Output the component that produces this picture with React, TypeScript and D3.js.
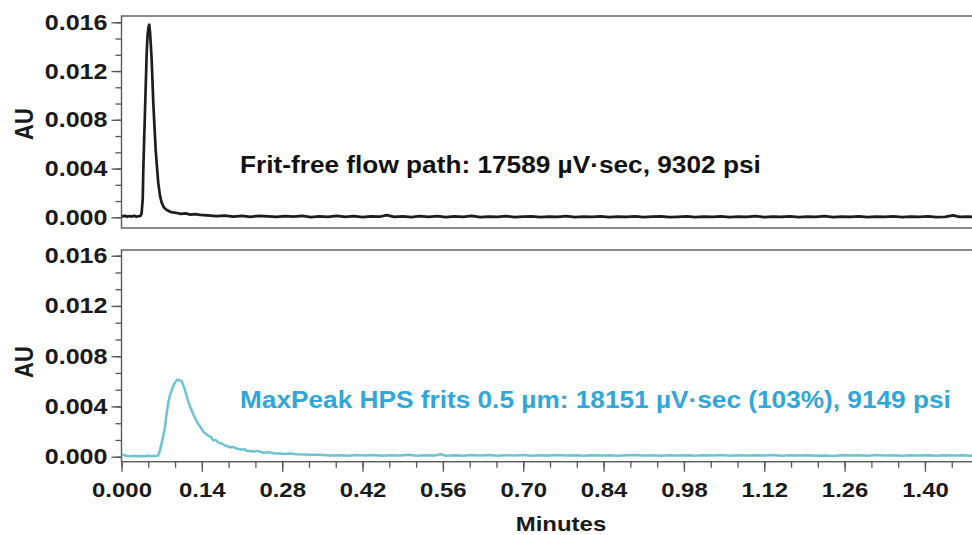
import { useEffect, useRef } from 'react';
import * as d3 from 'd3';

type Pt = [number, number];

const xTickValues = [0, 0.14, 0.28, 0.42, 0.56, 0.7, 0.84, 0.98, 1.12, 1.26, 1.4];
const xTickLabels = ['0.000', '0.14', '0.28', '0.42', '0.56', '0.70', '0.84', '0.98', '1.12', '1.26', '1.40'];
const yTickValues = [0, 0.004, 0.008, 0.012, 0.016];
const yTickLabels = ['0.000', '0.004', '0.008', '0.012', '0.016'];

const fritFreeLabel = 'Frit-free flow path: 17589 µV·sec, 9302 psi';
const maxPeakLabel = 'MaxPeak HPS frits 0.5 µm: 18151 µV·sec (103%), 9149 psi';

// [minutes, AU]
const fritFreeTrace: Pt[] = [
  [0.0, 0.00008], [0.006, 0.00012], [0.01, 0.00004], [0.014, 0.0001], [0.018, 0.00006],
  [0.022, 0.00013], [0.026, 0.00005], [0.03, 0.00009], [0.033, 0.00012], [0.035, 0.0003],
  [0.037, 0.0015], [0.038, 0.0039], [0.0395, 0.0064], [0.041, 0.0088], [0.0425, 0.0112],
  [0.0439, 0.0135], [0.0455, 0.015], [0.047, 0.0156], [0.0484, 0.0158], [0.0497, 0.0152],
  [0.051, 0.0142], [0.0526, 0.0129], [0.0554, 0.0094], [0.0575, 0.0074], [0.0596, 0.0055],
  [0.062, 0.004], [0.0641, 0.0028], [0.067, 0.0018], [0.07, 0.0012], [0.074, 0.0008],
  [0.0788, 0.0006], [0.085, 0.00045], [0.09, 0.0004], [0.0962, 0.00035], [0.104, 0.00028],
  [0.112, 0.00032], [0.12, 0.00022], [0.128, 0.00026], [0.137, 0.0002], [0.15, 0.00016],
  [0.165, 0.0001], [0.18, 0.00014], [0.195, 0.00006], [0.21, 0.00011], [0.225, 0.00004],
  [0.24, 0.00012], [0.255, 0.00007], [0.27, 0.00003], [0.285, 0.0001], [0.3, 0.00005],
  [0.315, 0.00012], [0.33, 0.00002], [0.345, 0.00008], [0.36, 0.00004], [0.375, 0.00011],
  [0.39, 0.00003], [0.405, 0.00009], [0.42, 0.00001], [0.435, 0.00007], [0.45, 0.00005],
  [0.462, 0.00018], [0.475, 0.00004], [0.49, 0.00008], [0.505, 0.00002], [0.52, 0.00009],
  [0.535, 0.00004], [0.55, 0.0001], [0.565, 0.00001], [0.58, 0.00007], [0.595, 0.00003],
  [0.61, 0.00011], [0.625, 0.00002], [0.64, 0.00006], [0.655, 0.00004], [0.67, 0.00009],
  [0.685, 0.00001], [0.7, 0.00005], [0.715, 0.00008], [0.73, 0.00002], [0.745, 0.00006],
  [0.76, 0.00003], [0.775, 0.0001], [0.79, 0.00001], [0.805, 0.00005], [0.82, 0.00004],
  [0.835, 0.00008], [0.85, 0.00002], [0.865, 0.00006], [0.88, 0.00003], [0.895, 0.00007],
  [0.91, 0.00001], [0.925, 0.00005], [0.94, 0.00008], [0.955, 0.00002], [0.97, 0.00004],
  [0.985, 0.00007], [1.0, 0.00001], [1.015, 0.00006], [1.03, 0.00003], [1.045, 0.00008],
  [1.06, 0.00002], [1.075, 0.00005], [1.09, 0.00004], [1.105, 0.00009], [1.12, 0.00001],
  [1.135, 0.00005], [1.15, 0.00003], [1.165, 0.00007], [1.18, 0.00002], [1.195, 0.00006],
  [1.21, 0.00004], [1.225, 0.00009], [1.24, 0.00002], [1.255, 0.00005], [1.27, 0.00003],
  [1.285, 0.00007], [1.3, 0.00001], [1.315, 0.00005], [1.33, 0.00004], [1.345, 0.00008],
  [1.36, 0.00002], [1.375, 0.00005], [1.39, 0.00003], [1.405, 0.00007], [1.42, 0.00002],
  [1.435, 0.00004], [1.449, 0.00016], [1.46, 0.00003], [1.475, 0.00005], [1.49, 0.00003],
  [1.5, 0.00004],
];

// [minutes, AU]
const maxPeakTrace: Pt[] = [
  [0.0, 0.00018], [0.005, 0.00012], [0.01, 0.00006], [0.016, 0.00004], [0.022, 0.00008],
  [0.028, 0.00003], [0.034, 0.00006], [0.04, 0.00004], [0.046, 0.00007], [0.052, 0.00005],
  [0.058, 0.00006], [0.0641, 0.0001], [0.067, 0.0005], [0.07, 0.0011], [0.073, 0.0017],
  [0.0758, 0.0024], [0.0785, 0.0034], [0.0815, 0.0043], [0.0845, 0.0049], [0.0875, 0.0053],
  [0.092, 0.0058], [0.0962, 0.0061], [0.1005, 0.0061], [0.1049, 0.006], [0.1075, 0.0057],
  [0.1106, 0.0053], [0.115, 0.0046], [0.1194, 0.004], [0.125, 0.0034], [0.131, 0.0028],
  [0.137, 0.0024], [0.1425, 0.002], [0.15, 0.0017], [0.155, 0.0016], [0.16, 0.0013],
  [0.165, 0.0013], [0.17, 0.0011], [0.175, 0.00105], [0.18, 0.0009], [0.189, 0.00075],
  [0.195, 0.00078], [0.2, 0.00065], [0.21, 0.00055], [0.214, 0.0006], [0.218, 0.00048],
  [0.23, 0.00042], [0.237, 0.00046], [0.247, 0.00032], [0.256, 0.00035], [0.265, 0.00028],
  [0.275, 0.00026], [0.285, 0.00022], [0.295, 0.00025], [0.305, 0.0002], [0.318, 0.00018],
  [0.33, 0.00015], [0.345, 0.00016], [0.363, 0.0001], [0.38, 0.00012], [0.395, 0.00008],
  [0.41, 0.00014], [0.425, 0.00009], [0.44, 0.00013], [0.455, 0.00007], [0.47, 0.00012],
  [0.485, 0.0001], [0.5, 0.00015], [0.515, 0.00008], [0.53, 0.00012], [0.545, 0.00009],
  [0.556, 0.0002], [0.565, 0.00008], [0.58, 0.00012], [0.595, 0.00007], [0.61, 0.00013],
  [0.625, 0.00009], [0.64, 0.00014], [0.655, 0.00008], [0.67, 0.00012], [0.685, 0.0001],
  [0.7, 0.00014], [0.715, 0.00008], [0.73, 0.00011], [0.745, 0.00009], [0.76, 0.00013],
  [0.775, 0.00009], [0.79, 0.00011], [0.805, 0.00008], [0.82, 0.00012], [0.835, 0.00009],
  [0.85, 0.00011], [0.865, 0.00007], [0.88, 0.00012], [0.895, 0.00014], [0.91, 0.00009],
  [0.925, 0.00012], [0.94, 0.00008], [0.955, 0.00011], [0.97, 0.00009], [0.985, 0.00012],
  [1.0, 0.00008], [1.015, 0.00011], [1.03, 0.00009], [1.045, 0.00014], [1.06, 0.00008],
  [1.075, 0.00011], [1.09, 0.00009], [1.105, 0.00012], [1.12, 0.0001], [1.135, 0.00013],
  [1.15, 0.00007], [1.165, 0.00011], [1.18, 0.00009], [1.195, 0.00012], [1.21, 0.00008],
  [1.225, 0.0001], [1.24, 0.00006], [1.255, 0.00011], [1.27, 0.00009], [1.285, 0.00012],
  [1.3, 0.00008], [1.315, 0.00013], [1.33, 0.00009], [1.345, 0.00012], [1.36, 0.00008],
  [1.375, 0.00011], [1.39, 0.00009], [1.405, 0.00012], [1.42, 0.00008], [1.435, 0.00011],
  [1.45, 0.00009], [1.465, 0.00012], [1.48, 0.00008], [1.5, 0.0001],
];

const FONT = '"Liberation Sans", Arial, Helvetica, sans-serif';
const STRETCH = 1.14;

function stretchText(sel: d3.Selection<any, any, any, any>, k = STRETCH) {
  sel.each(function () {
    const n = this as SVGTextElement;
    const w = n.getComputedTextLength();
    if (w > 0) {
      n.setAttribute('textLength', String(w * k));
      n.setAttribute('lengthAdjust', 'spacingAndGlyphs');
    }
  });
}

export default function App() {
  const svgRef = useRef<SVGSVGElement>(null);

  useEffect(() => {
    if (!svgRef.current) return;
    const svg = d3.select(svgRef.current);
    svg.selectAll('*').remove();

    const width = 972;
    const left = 121.5;
    const pxPerMin = 573.9;

    const x = d3.scaleLinear().domain([0, 1.5]).range([left, left + 1.5 * pxPerMin]);

    const panels = [
      {
        id: 'top', data: fritFreeTrace, color: '#1d1d1d', lineWidth: 2.7,
        label: fritFreeLabel, labelColor: '#111111', top: 16, bottom: 228,
        yZero: 217.3, yMax: 22.3, labelY: 173.3, auY: 124, xAxis: false,
      },
      {
        id: 'bottom', data: maxPeakTrace, color: '#6cc4d3', lineWidth: 2.5,
        label: maxPeakLabel, labelColor: '#30a6d9', top: 250, bottom: 461.7,
        yZero: 456.7, yMax: 255.7, labelY: 408.3, auY: 362, xAxis: true,
      },
    ];

    const defs = svg.append('defs');

    panels.forEach((p) => {
      const y = d3.scaleLinear().domain([0, 0.016]).range([p.yZero, p.yMax]);
      const g = svg.append('g');

      // panel frame (right side runs off the picture)
      g.append('rect')
        .attr('x', left)
        .attr('y', p.top)
        .attr('width', width + 20 - left)
        .attr('height', p.bottom - p.top)
        .attr('fill', 'none')
        .attr('stroke', '#5a5a5a')
        .attr('stroke-width', 1.4);

      // minor y ticks
      g.append('g')
        .attr('transform', `translate(${left},0)`)
        .call(
          d3.axisLeft(y)
            .tickValues(d3.range(0, 0.016 + 1e-9, 0.004 / 3))
            .tickSize(6)
            .tickFormat(() => '')
        )
        .call((a) => a.select('.domain').remove())
        .selectAll('line')
        .attr('stroke', '#555')
        .attr('stroke-width', 1.3);

      // major y ticks
      const yAxis = g.append('g')
        .attr('transform', `translate(${left},0)`)
        .call(
          d3.axisLeft(y)
            .tickValues(yTickValues)
            .tickSize(10)
            .tickPadding(4)
            .tickFormat((_d, i) => yTickLabels[i])
        )
        .call((a) => a.select('.domain').remove());
      yAxis.selectAll('line').attr('stroke', '#555').attr('stroke-width', 1.3);
      yAxis.selectAll<SVGTextElement, unknown>('text')
        .attr('fill', '#1a1a1a')
        .style('font-family', FONT)
        .style('font-size', '22px')
        .style('font-weight', 'bold')
        .call(stretchText);

      // AU label
      g.append('text')
        .attr('transform', `translate(24,${p.auY}) scale(${STRETCH},1) rotate(-90)`)
        .attr('text-anchor', 'middle')
        .attr('y', '0.36em')
        .attr('fill', '#1a1a1a')
        .style('font-family', FONT)
        .style('font-size', '22px')
        .style('font-weight', 'bold')
        .text('AU');

      // trace
      defs.append('clipPath')
        .attr('id', `clip-${p.id}`)
        .append('rect')
        .attr('x', left)
        .attr('y', p.top)
        .attr('width', width - left + 20)
        .attr('height', p.bottom - p.top);

      const line = d3.line<Pt>()
        .x((d) => x(d[0]))
        .y((d) => y(d[1]));

      g.append('path')
        .datum(p.data)
        .attr('clip-path', `url(#clip-${p.id})`)
        .attr('fill', 'none')
        .attr('stroke', p.color)
        .attr('stroke-width', p.lineWidth)
        .attr('stroke-linejoin', 'round')
        .attr('d', line);

      // annotation
      g.append('text')
        .attr('x', 240)
        .attr('y', p.labelY)
        .attr('fill', p.labelColor)
        .style('font-family', FONT)
        .style('font-size', '23px')
        .style('font-weight', 'bold')
        .text(p.label)
        .call(stretchText);

      if (p.xAxis) {
        const xMinor = g.append('g')
          .attr('transform', `translate(0,${p.bottom})`)
          .call(
            d3.axisBottom(x)
              .tickValues(d3.range(0, 1.5, 0.14 / 3))
              .tickSize(6)
              .tickFormat(() => '')
          )
          .call((a) => a.select('.domain').remove());
        xMinor.selectAll('line').attr('stroke', '#555').attr('stroke-width', 1.3);

        const xAxis = g.append('g')
          .attr('transform', `translate(0,${p.bottom})`)
          .call(
            d3.axisBottom(x)
              .tickValues(xTickValues)
              .tickSize(10)
              .tickPadding(10)
              .tickFormat((_d, i) => xTickLabels[i])
          )
          .call((a) => a.select('.domain').remove());
        xAxis.selectAll('line').attr('stroke', '#555').attr('stroke-width', 1.3);
        xAxis.selectAll<SVGTextElement, unknown>('text')
          .attr('fill', '#1a1a1a')
          .style('font-family', FONT)
          .style('font-size', '21px')
          .style('font-weight', 'bold')
          .call(stretchText);

        svg.append('text')
          .attr('x', 561)
          .attr('y', 531)
          .attr('text-anchor', 'middle')
          .attr('fill', '#1a1a1a')
          .style('font-family', FONT)
          .style('font-size', '21px')
          .style('font-weight', 'bold')
          .text('Minutes')
          .call(stretchText);
      }
    });
  }, []);

  return (
    <svg
      ref={svgRef}
      width={972}
      height={535}
      style={{ position: 'absolute', left: 0, top: 0, background: '#fff' }}
    />
  );
}
